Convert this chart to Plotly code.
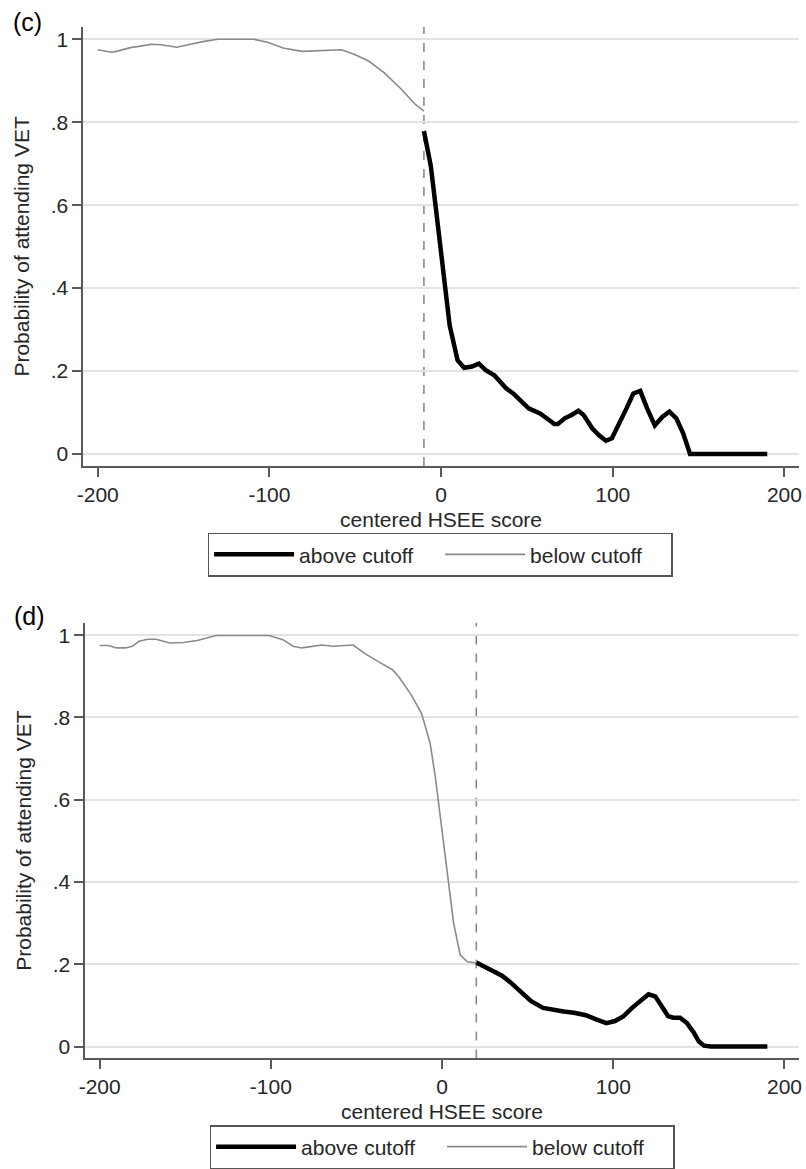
import plotly.graph_objects as go

# ---------------- data ----------------
# Panel (c)
c_below_x = [-200, -192, -189, -181, -176, -169, -163, -154, -146, -138, -130, -109,
             -101, -92, -81, -73, -58, -50, -42, -33, -23, -15, -10]
c_below_y = [0.975, 0.969, 0.971, 0.980, 0.983, 0.988, 0.987, 0.981, 0.988, 0.995, 1.0, 1.0,
             0.993, 0.979, 0.971, 0.973, 0.975, 0.963, 0.947, 0.919, 0.879, 0.843, 0.827]
c_above_x = [-10, -6, -3, 1, 5, 9.6, 13.4, 18, 22, 26, 31, 38, 42, 51, 57.6, 61.5, 66, 68,
             72, 76, 80, 83, 88, 92, 96, 99.5, 104, 108, 112, 116, 120, 124.5, 129, 133,
             137, 141, 145, 190]
c_above_y = [0.779, 0.695, 0.591, 0.455, 0.310, 0.226, 0.208, 0.211, 0.218, 0.202, 0.190,
             0.158, 0.146, 0.110, 0.098, 0.086, 0.072, 0.072, 0.086, 0.094, 0.104, 0.094,
             0.062, 0.045, 0.032, 0.038, 0.074, 0.110, 0.146, 0.152, 0.110, 0.069, 0.090,
             0.102, 0.086, 0.050, 0.0, 0.0]
c_cutoff = -10

# Panel (d)
d_below_x = [-200, -195, -190, -185, -181, -177, -172, -167, -159, -151, -143, -132,
             -101, -93, -87, -82, -70, -64, -52, -45, -37, -29, -25, -18, -12, -7, -4,
             -1.5, 1, 3.6, 6.7, 10.6, 14.8, 20]
d_below_y = [0.975, 0.975, 0.969, 0.969, 0.973, 0.985, 0.990, 0.990, 0.981, 0.982, 0.987,
             0.999, 0.999, 0.989, 0.973, 0.969, 0.976, 0.973, 0.976, 0.955, 0.935, 0.916,
             0.897, 0.855, 0.810, 0.738, 0.657, 0.576, 0.495, 0.398, 0.301, 0.222, 0.206,
             0.203]
d_above_x = [20, 28, 35, 40, 46, 52, 59, 65, 71, 77, 84, 90, 96, 101, 106, 111, 116,
             120.6, 124.5, 128, 132, 135, 139, 143, 147, 150, 153, 157, 190]
d_above_y = [0.204, 0.188, 0.172, 0.156, 0.132, 0.110, 0.094, 0.089, 0.085, 0.082, 0.076,
             0.066, 0.057, 0.062, 0.074, 0.094, 0.113, 0.127, 0.122, 0.098, 0.074, 0.070,
             0.070, 0.057, 0.034, 0.012, 0.002, 0.0, 0.0]
d_cutoff = 20

y_tickvals = [0, 0.2, 0.4, 0.6, 0.8, 1]
y_ticktext = ["0", ".2", ".4", ".6", ".8", "1"]
x_tickvals = [-200, -100, 0, 100, 200]
x_ticktext = ["-200", "-100", "0", "100", "200"]

x_title = "centered HSEE score"
y_title = "Probability of attending VET"
panel_labels = ["(c)", "(d)"]
names = ["above cutoff", "below cutoff"]

# ---------------- layout helpers ----------------
W, H = 806, 1169
FONT = "Liberation Sans, Arial, sans-serif"
FS = 21
TXT = "#262626"
AX = "#595959"

def px_x(p):
    return p / W

def px_y(p):
    return 1 - p / H

fig = go.Figure()

BLACK = dict(color="black", width=4.5)
GRAY = dict(color="#8a8a8a", width=1.6)

# panel c
fig.add_trace(go.Scatter(x=c_above_x, y=c_above_y, mode="lines", line=BLACK,
                         name=names[0], xaxis="x", yaxis="y", legend="legend"))
fig.add_trace(go.Scatter(x=c_below_x, y=c_below_y, mode="lines", line=GRAY,
                         name=names[1], xaxis="x", yaxis="y", legend="legend"))
# panel d
fig.add_trace(go.Scatter(x=d_above_x, y=d_above_y, mode="lines", line=BLACK,
                         name=names[0], xaxis="x2", yaxis="y2", legend="legend2"))
fig.add_trace(go.Scatter(x=d_below_x, y=d_below_y, mode="lines", line=GRAY,
                         name=names[1], xaxis="x2", yaxis="y2", legend="legend2"))

XR = [-208.5, 208.5]
YR = [-0.029, 1.03]

def xaxis(domain, anchor):
    return dict(domain=domain, anchor=anchor, range=XR, tickvals=x_tickvals,
                ticktext=x_ticktext, showgrid=False, zeroline=False,
                showline=True, linecolor=AX, linewidth=1.5,
                ticks="outside", ticklen=9, tickwidth=1.5, tickcolor=AX,
                tickfont=dict(family=FONT, size=FS, color=TXT),
                title=dict(text=x_title, font=dict(family=FONT, size=FS, color=TXT),
                           standoff=7))

def yaxis(domain, anchor):
    return dict(domain=domain, anchor=anchor, range=YR, tickvals=y_tickvals,
                ticktext=y_ticktext, showgrid=True, gridcolor="#e3e3e3", gridwidth=1.5,
                zeroline=False, showline=True, linecolor=AX, linewidth=1.5,
                ticks="outside", ticklen=9, tickwidth=1.5, tickcolor=AX,
                tickfont=dict(family=FONT, size=FS, color=TXT),
                title=dict(text=y_title, font=dict(family=FONT, size=FS, color=TXT),
                           standoff=15))

top_xd = [px_x(78), px_x(802)]
top_yd = [px_y(468), px_y(27)]
bot_xd = [px_x(80), px_x(802)]
bot_yd = [px_y(1063), px_y(625.5)]

legend_common = dict(orientation="h", xanchor="center", yanchor="top",
                     bordercolor="#555555", borderwidth=1.5, bgcolor="white",
                     font=dict(family=FONT, size=FS, color=TXT),
                     entrywidth=136, entrywidthmode="pixels", itemwidth=80)

fig.update_layout(
    width=W, height=H,
    margin=dict(l=0, r=0, t=0, b=0),
    paper_bgcolor="white", plot_bgcolor="white",
    font=dict(family=FONT, size=FS, color=TXT),
    xaxis=xaxis(top_xd, "y"), yaxis=yaxis(top_yd, "x"),
    xaxis2=xaxis(bot_xd, "y2"), yaxis2=yaxis(bot_yd, "x2"),
    legend=dict(x=px_x(439), y=px_y(535), **legend_common),
    legend2=dict(x=px_x(441), y=px_y(1130), **legend_common),
    showlegend=True,
)

# cutoff lines
fig.add_shape(type="line", x0=c_cutoff, x1=c_cutoff, y0=0, y1=1, xref="x", yref="y domain",
              line=dict(color="#8a8a8a", width=1.6, dash="dash"), layer="below")
fig.add_shape(type="line", x0=d_cutoff, x1=d_cutoff, y0=0, y1=1, xref="x2", yref="y2 domain",
              line=dict(color="#8a8a8a", width=1.6, dash="dash"), layer="below")

# panel labels
fig.add_annotation(text=panel_labels[0], x=px_x(5), y=px_y(22), xref="paper", yref="paper",
                   xanchor="left", yanchor="middle", showarrow=False,
                   font=dict(family=FONT, size=25, color="black"))
fig.add_annotation(text=panel_labels[1], x=px_x(6), y=px_y(619), xref="paper", yref="paper",
                   xanchor="left", yanchor="middle", showarrow=False,
                   font=dict(family=FONT, size=25, color="black"))

fig.write_html("out.html")
